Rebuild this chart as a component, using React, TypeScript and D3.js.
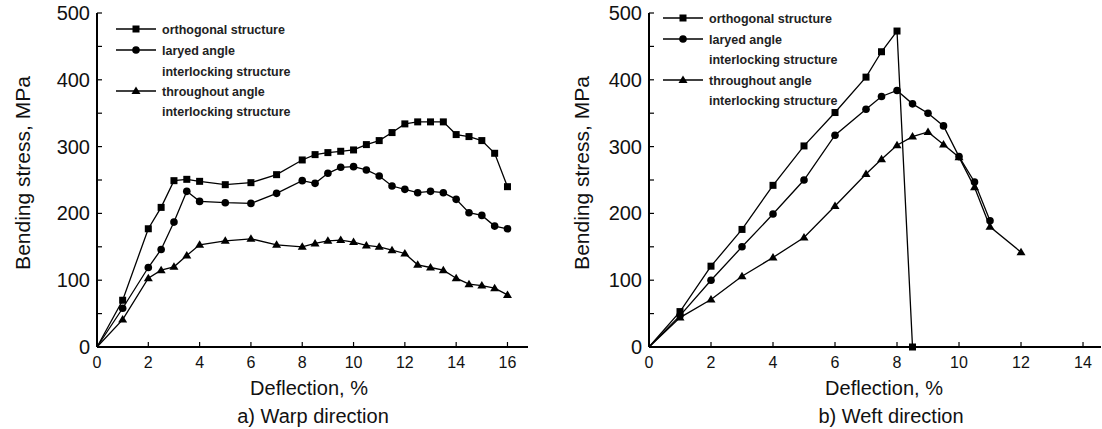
import * as React from "react";
import * as d3 from "d3";

// warp direction (panel a)
const warpX = [0, 1, 2, 2.5, 3, 3.5, 4, 5, 6, 7, 8, 8.5, 9, 9.5, 10, 10.5, 11, 11.5, 12, 12.5, 13, 13.5, 14, 14.5, 15, 15.5, 16];
const warpOrtho = [0, 70, 177, 209, 249, 251, 248, 243, 246, 258, 280, 288, 291, 293, 295, 303, 309, 321, 334, 337, 337, 337, 318, 315, 309, 290, 240];
const warpLayered = [0, 58, 119, 146, 187, 233, 218, 216, 215, 230, 249, 245, 260, 269, 270, 265, 256, 241, 236, 231, 233, 231, 221, 201, 197, 181, 177];
const warpThrough = [0, 41, 103, 115, 120, 137, 153, 159, 162, 153, 150, 155, 159, 160, 157, 152, 150, 145, 140, 123, 119, 115, 103, 94, 92, 88, 78];

// weft direction (panel b)
const weftOrthoX = [0, 1, 2, 3, 4, 5, 6, 7, 7.5, 8, 8.5];
const weftOrtho = [0, 53, 121, 176, 242, 301, 351, 404, 442, 473, 0];
const weftLayeredX = [0, 1, 2, 3, 4, 5, 6, 7, 7.5, 8, 8.5, 9, 9.5, 10, 10.5, 11];
const weftLayered = [0, 47, 100, 150, 199, 250, 317, 356, 375, 384, 364, 350, 331, 285, 247, 189];
const weftThroughX = [0, 1, 2, 3, 4, 5, 6, 7, 7.5, 8, 8.5, 9, 9.5, 10, 10.5, 11, 12];
const weftThrough = [0, 44, 71, 106, 134, 164, 211, 259, 281, 302, 315, 322, 303, 284, 239, 180, 142];

const legendLines = [
  ["orthogonal structure"],
  ["laryed angle", "interlocking structure"],
  ["throughout angle", "interlocking structure"],
];
const markerKinds = ["square", "circle", "triangle"];
const yTicks = [0, 100, 200, 300, 400, 500];

const FONT = "'Liberation Sans', Arial, Helvetica, sans-serif";

type Series = {xs: number[], ys: number[], kind: string};

type PanelProps = {
  left: number, right: number, xMax: number, xTicks: number[],
  series: Series[], legendX: number, legendY: number[], title: string,
  yLabelX: number, xLabelX: number, titleX: number
};

function drawMarker(g: any, kind: string, x: number, y: number) {
  if (kind === "square") {
    g.append("rect").attr("x", x - 3.5).attr("y", y - 3.5).attr("width", 7).attr("height", 7).attr("fill", "#000");
  } else if (kind === "circle") {
    g.append("circle").attr("cx", x).attr("cy", y).attr("r", 3.8).attr("fill", "#000");
  } else {
    g.append("path").attr("d", `M${x},${y - 4.5}L${x + 4.5},${y + 3}L${x - 4.5},${y + 3}Z`).attr("fill", "#000");
  }
}

function drawPanel(svg: any, p: PanelProps) {
  const top = 13, bottom = 347;
  const x = d3.scaleLinear().domain([0, p.xMax]).range([p.left, p.right]);
  const y = d3.scaleLinear().domain([0, 500]).range([bottom, top]);
  const g = svg.append("g");

  // axes
  g.append("line").attr("x1", x(0)).attr("x2", x(0)).attr("y1", y(500)).attr("y2", y(0))
    .attr("stroke", "#000").attr("stroke-width", 2);
  g.append("line").attr("x1", x(0)).attr("x2", x(p.xMax)).attr("y1", y(0)).attr("y2", y(0))
    .attr("stroke", "#000").attr("stroke-width", 2.2);

  d3.range(0, 501, 50).forEach(v => {
    g.append("line").attr("x1", x(0)).attr("x2", x(0) + 5).attr("y1", y(v)).attr("y2", y(v))
      .attr("stroke", "#000").attr("stroke-width", 1.2);
  });
  yTicks.forEach(v => {
    g.append("text").attr("x", x(0) - 7).attr("y", y(v) + 7).attr("text-anchor", "end")
      .attr("font-size", 20).attr("font-family", FONT).attr("fill", "#111").text(v);
  });
  p.xTicks.forEach(v => {
    if (v > 0) {
      g.append("line").attr("x1", x(v)).attr("x2", x(v)).attr("y1", y(0)).attr("y2", y(0) - 5)
        .attr("stroke", "#000").attr("stroke-width", 1.2);
    }
    g.append("text").attr("x", x(v)).attr("y", 368).attr("text-anchor", "middle")
      .attr("font-size", 16).attr("font-family", FONT).attr("fill", "#111").text(v);
  });

  // series
  const line = d3.line<[number, number]>().x(d => x(d[0])).y(d => y(d[1]));
  p.series.forEach(s => {
    const pts: [number, number][] = s.xs.map((v, i) => [v, s.ys[i]]);
    g.append("path").attr("d", line(pts)).attr("fill", "none").attr("stroke", "#000").attr("stroke-width", 1.3);
    pts.forEach(d => { if (d[0] > 0) drawMarker(g, s.kind, x(d[0]), y(d[1])); });
  });

  // legend
  let row = 0;
  legendLines.forEach((lines, i) => {
    const ly = p.legendY[row];
    g.append("line").attr("x1", p.legendX).attr("x2", p.legendX + 40).attr("y1", ly).attr("y2", ly)
      .attr("stroke", "#000").attr("stroke-width", 1.3);
    drawMarker(g, markerKinds[i], p.legendX + 20, ly);
    lines.forEach(t => {
      g.append("text").attr("x", p.legendX + 46).attr("y", p.legendY[row] + 4.5)
        .attr("font-size", 12.5).attr("font-weight", "bold").attr("font-family", FONT)
        .attr("fill", "#222").text(t);
      row++;
    });
  });

  // labels
  g.append("text").attr("transform", `translate(${p.yLabelX},173) rotate(-90)`).attr("text-anchor", "middle")
    .attr("font-size", 21).attr("font-family", FONT).attr("fill", "#111").text("Bending stress, MPa");
  g.append("text").attr("x", p.xLabelX).attr("y", 395).attr("text-anchor", "middle")
    .attr("font-size", 20).attr("font-family", FONT).attr("fill", "#111").text("Deflection, %");
  g.append("text").attr("x", p.titleX).attr("y", 423).attr("text-anchor", "middle")
    .attr("font-size", 20).attr("font-family", FONT).attr("fill", "#111").text(p.title);
}

export default function App() {
  const ref = React.useRef<SVGSVGElement>(null);

  React.useEffect(() => {
    const svg = d3.select(ref.current);
    svg.selectAll("*").remove();
    svg.append("rect").attr("width", 1102).attr("height", 429).attr("fill", "#fff");

    drawPanel(svg, {
      left: 97, right: 528, xMax: 16.8, xTicks: [0, 2, 4, 6, 8, 10, 12, 14, 16],
      series: [
        {xs: warpX, ys: warpOrtho, kind: "square"},
        {xs: warpX, ys: warpLayered, kind: "circle"},
        {xs: warpX, ys: warpThrough, kind: "triangle"},
      ],
      legendX: 116, legendY: [29, 50, 71, 91, 111], title: "a) Warp direction",
      yLabelX: 30, xLabelX: 309, titleX: 313
    });

    drawPanel(svg, {
      left: 649, right: 1101, xMax: 14.58, xTicks: [0, 2, 4, 6, 8, 10, 12, 14],
      series: [
        {xs: weftOrthoX, ys: weftOrtho, kind: "square"},
        {xs: weftLayeredX, ys: weftLayered, kind: "circle"},
        {xs: weftThroughX, ys: weftThrough, kind: "triangle"},
      ],
      legendX: 663, legendY: [18, 39, 59, 80, 100], title: "b) Weft direction",
      yLabelX: 589, xLabelX: 884, titleX: 891
    });
  }, []);

  return (
    <svg ref={ref} width={1102} height={429}
      style={{position: "absolute", left: 0, top: 0, display: "block"}} />
  );
}
